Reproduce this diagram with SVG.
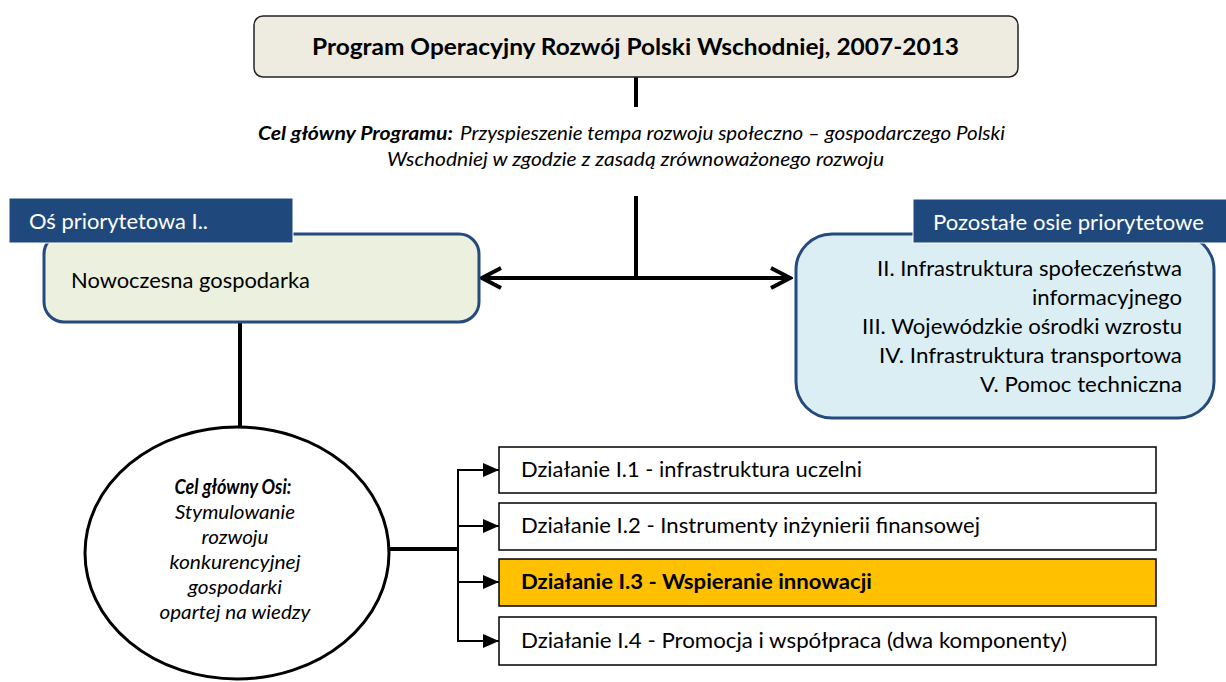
<svg xmlns="http://www.w3.org/2000/svg" width="1226" height="682" viewBox="0 0 1226 682">
<style>
text{font-family:Lato,"Liberation Sans",sans-serif;fill:#000}
.it{font-style:italic}
.b{font-weight:bold}
.hdr{fill:#1f497d;stroke:#fff;stroke-width:1}
.hdrt{fill:#fff;font-size:21.5px}
.act{fill:#fff;stroke:#000;stroke-width:1.5}
.actt{font-size:21px}
.ln{stroke:#000;fill:none}
.rt{font-size:21.5px;text-anchor:end}
.et{font-size:20px;font-style:italic;text-anchor:middle}
</style>
<defs>
<marker id="tri" markerWidth="16" markerHeight="14" refX="16" refY="7" orient="auto" markerUnits="userSpaceOnUse">
<path d="M0,0 L16,7 L0,14 Z" fill="#000"/>
</marker>
<marker id="chev" markerWidth="24" markerHeight="24" refX="21" refY="12" orient="auto-start-reverse" markerUnits="userSpaceOnUse">
<path d="M2,2 L21,12 L2,22" fill="none" stroke="#000" stroke-width="4"/>
</marker>
</defs>

<g id="connectors">
<line class="ln" x1="636" y1="77" x2="636" y2="107" stroke-width="4"/>
<line class="ln" x1="636" y1="196" x2="636" y2="279" stroke-width="4"/>
<line class="ln" x1="482" y1="278" x2="790" y2="278" stroke-width="4" marker-start="url(#chev)" marker-end="url(#chev)"/>
<line class="ln" x1="240" y1="322" x2="240" y2="428" stroke-width="4"/>
<line class="ln" x1="388" y1="549" x2="458" y2="549" stroke-width="4"/>
<line class="ln" x1="458" y1="469" x2="458" y2="641" stroke-width="2"/>
<line class="ln" x1="457" y1="470" x2="499" y2="470" stroke-width="2" marker-end="url(#tri)"/>
<line class="ln" x1="457" y1="526" x2="499" y2="526" stroke-width="2" marker-end="url(#tri)"/>
<line class="ln" x1="457" y1="582" x2="499" y2="582" stroke-width="2" marker-end="url(#tri)"/>
<line class="ln" x1="457" y1="641" x2="499" y2="641" stroke-width="2" marker-end="url(#tri)"/>
</g>

<g id="title">
<rect x="254" y="16" width="764" height="61" rx="9" fill="#eeece1" stroke="#222" stroke-width="1.5"/>
<text x="312" y="55" class="b" font-size="23" textLength="647" lengthAdjust="spacingAndGlyphs">Program Operacyjny Rozwój Polski Wschodniej, 2007-2013</text>
</g>

<g id="goal">
<text x="258" y="140" font-size="19" class="it b" textLength="195" lengthAdjust="spacingAndGlyphs">Cel główny Programu:</text>
<text x="460" y="140" font-size="19" class="it" textLength="545" lengthAdjust="spacingAndGlyphs">Przyspieszenie tempa rozwoju społeczno – gospodarczego Polski</text>
<text x="387" y="166" font-size="19" class="it" textLength="497" lengthAdjust="spacingAndGlyphs">Wschodniej w zgodzie z zasadą zrównoważonego rozwoju</text>
</g>

<g id="axis1">
<rect x="44" y="234" width="435" height="88" rx="20" fill="#ebf1de" stroke="#254a7c" stroke-width="3"/>
<rect class="hdr" x="9" y="198" width="284" height="45"/>
<text x="29" y="229" class="hdrt" textLength="179" lengthAdjust="spacingAndGlyphs">Oś priorytetowa I..</text>
<text x="71" y="288" font-size="21.5" textLength="239" lengthAdjust="spacingAndGlyphs">Nowoczesna gospodarka</text>
</g>

<g id="other-axes">
<rect x="796" y="234" width="418" height="184" rx="36" fill="#dbeef4" stroke="#254a7c" stroke-width="3"/>
<rect class="hdr" x="913" y="199" width="314" height="44"/>
<text x="933" y="230" class="hdrt" textLength="271" lengthAdjust="spacingAndGlyphs">Pozostałe osie priorytetowe</text>
<text x="1182" y="276" class="rt" textLength="305" lengthAdjust="spacingAndGlyphs">II. Infrastruktura społeczeństwa</text>
<text x="1182" y="305" class="rt" textLength="150" lengthAdjust="spacingAndGlyphs">informacyjnego</text>
<text x="1182" y="334" class="rt" textLength="320" lengthAdjust="spacingAndGlyphs">III. Wojewódzkie ośrodki wzrostu</text>
<text x="1182" y="363" class="rt" textLength="303" lengthAdjust="spacingAndGlyphs">IV. Infrastruktura transportowa</text>
<text x="1182" y="392" class="rt" textLength="202" lengthAdjust="spacingAndGlyphs">V. Pomoc techniczna</text>
</g>

<g id="axis-goal">
<ellipse cx="237" cy="553" rx="152" ry="126" fill="#fff" stroke="#000" stroke-width="3"/>
<text x="233" y="494" class="et b" textLength="117" lengthAdjust="spacingAndGlyphs">Cel główny Osi:</text>
<text x="235" y="519" class="et" textLength="120" lengthAdjust="spacingAndGlyphs">Stymulowanie</text>
<text x="235" y="544" class="et" textLength="67" lengthAdjust="spacingAndGlyphs">rozwoju</text>
<text x="235" y="569" class="et" textLength="131" lengthAdjust="spacingAndGlyphs">konkurencyjnej</text>
<text x="235" y="594" class="et" textLength="94" lengthAdjust="spacingAndGlyphs">gospodarki</text>
<text x="235" y="619" class="et" textLength="151" lengthAdjust="spacingAndGlyphs">opartej na wiedzy</text>
</g>

<g id="action1">
<rect class="act" x="499" y="447" width="657" height="46"/>
<text x="521" y="477" class="actt" textLength="341" lengthAdjust="spacingAndGlyphs">Działanie I.1 - infrastruktura uczelni</text>
</g>
<g id="action2">
<rect class="act" x="499" y="503" width="657" height="47"/>
<text x="521" y="533" class="actt" textLength="459" lengthAdjust="spacingAndGlyphs">Działanie I.2 - Instrumenty inżynierii finansowej</text>
</g>
<g id="action3">
<rect class="act" x="499" y="559" width="657" height="47" style="fill:#ffc000"/>
<text x="521" y="589" class="actt b" textLength="351" lengthAdjust="spacingAndGlyphs">Działanie I.3 - Wspieranie innowacji</text>
</g>
<g id="action4">
<rect class="act" x="499" y="617" width="657" height="48"/>
<text x="521" y="648" class="actt" textLength="546" lengthAdjust="spacingAndGlyphs">Działanie I.4 - Promocja i współpraca (dwa komponenty)</text>
</g>
</svg>
